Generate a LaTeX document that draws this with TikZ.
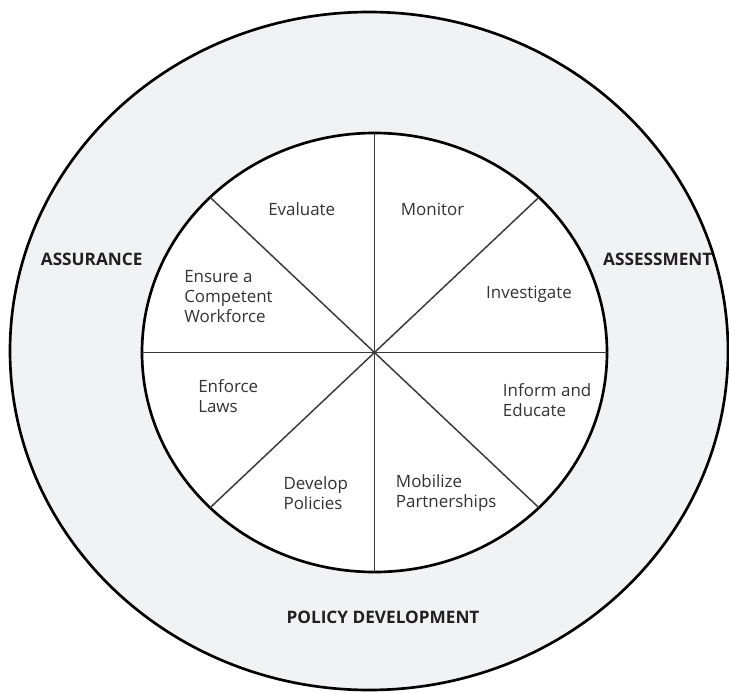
\documentclass[tikz,border=0pt]{standalone}
\usepackage{fontspec}
\setmainfont{Open Sans}
\usepackage{xcolor}
\usetikzlibrary{positioning,calc}
\definecolor{ringgrey}{HTML}{F1F2F4}
\definecolor{spokegrey}{HTML}{3A3A3A}
\definecolor{textgrey}{HTML}{333333}
\definecolor{headblack}{HTML}{231F20}

\begin{document}
\begin{tikzpicture}[
  x=0.75pt, y=-0.75pt,
  service/.style={font=\fontsize{12.7}{15}\selectfont, text=textgrey, inner sep=0pt, align=left},
  fname/.style={font=\fontsize{12.9}{15}\selectfont\bfseries, text=headblack, inner sep=0pt},
  spoke/.style={draw=spokegrey, line width=1.1pt}
]
  \useasboundingbox (0,0) rectangle (729,693);

  % outer ring and wheel
  \draw[fill=ringgrey, line width=2pt] (369,351) ellipse [x radius=359, y radius=339];
  \coordinate (hub) at (374.5,352.5);
  \draw[fill=white, line width=2pt] (hub) ellipse [x radius=232.5, y radius=219.5];
  \foreach \a in {0,45,...,315}
    \draw[spoke] (hub) -- ($(hub)+(\a:232.5 and 219.5)$);

  % essential services
  \node[service] (evaluate) at (301.7,209) {Evaluate};
  \node[service] (monitor) at (432.5,209) {Monitor};
  \node[service] (investigate) at (529,294) {Investigate};
  \node[service, anchor=west] (ensure) at (184,296.7) {Ensure a\\Competent\\Workforce};
  \node[service, anchor=west] (enforce) at (198,396) {Enforce\\Laws};
  \node[service, anchor=west] (inform) at (502.7,400.5) {Inform and\\Educate};
  \node[service, anchor=west] (develop) at (283.3,492.7) {Develop\\Policies};
  \node[service, anchor=west] (mobilize) at (395.7,492.7) {Mobilize\\Partnerships};

  % core functions
  \node[fname] (assurance) at (91.7,259) {ASSURANCE};
  \node[fname] (assessment) at (657.8,259) {ASSESSMENT};
  \node[fname] (policy) at (383,617) {POLICY DEVELOPMENT};
\end{tikzpicture}
\end{document}
